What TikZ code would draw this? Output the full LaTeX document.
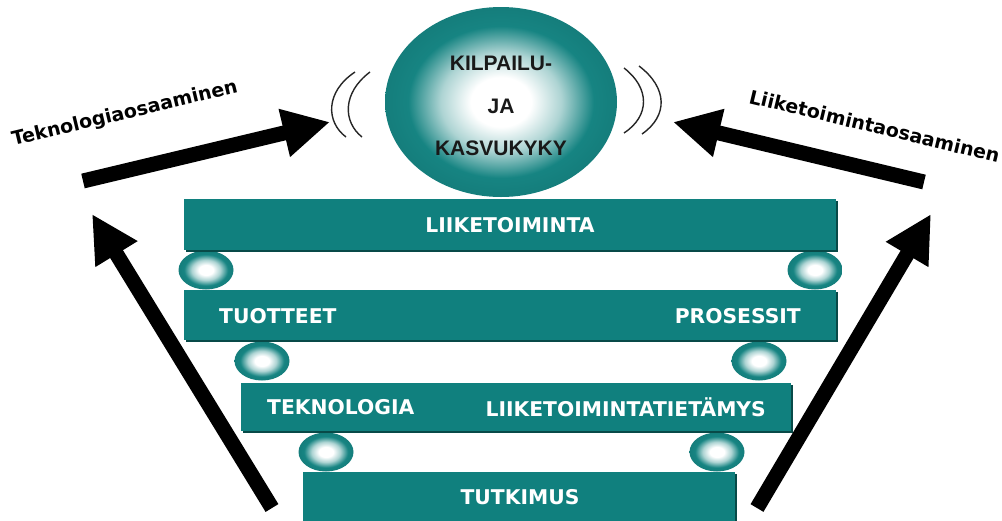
\documentclass[tikz,border=0pt]{standalone}
\usepackage{fontspec}
\setmainfont{DejaVu Sans}
\newfontfamily\ballfont{Liberation Sans}
\usetikzlibrary{arrows.meta,shapes.geometric,shadows}

\definecolor{barteal}{RGB}{16,128,126}
\definecolor{bardark}{RGB}{8,74,72}
\definecolor{balledge}{RGB}{22,132,130}
\colorlet{ballmid}{balledge!35!white}
\colorlet{ballrim}{balledge!95!black}

% white core fading into teal towards the rim
\pgfdeclareradialshading{pearlshade}{\pgfpoint{0bp}{0bp}}{%
  color(0bp)=(white); color(6.5bp)=(white); color(13bp)=(ballmid);
  color(20bp)=(balledge); color(25bp)=(ballrim); color(50bp)=(ballrim)}

\tikzset{
  bar/.style={rectangle, fill=barteal, inner sep=0pt, anchor=north west,
    general shadow={fill=bardark, shadow xshift=1.5pt, shadow yshift=-2pt}},
  bartext/.style={text=white, inner sep=0pt,
    font=\fontsize{20.3}{21}\selectfont\bfseries},
  pearlnode/.style={ellipse, inner sep=0pt, minimum width=55pt,
    minimum height=39pt, shade, shading=pearlshade},
  bigarrow/.style={line width=15pt, -{Triangle[length=47pt,width=46pt]}},
  sidelabel/.style={anchor=base, inner sep=0pt,
    font=\fontsize{19}{20}\selectfont\bfseries},
  wave/.style={line width=1.4pt, black!85},
}

\begin{document}
\begin{tikzpicture}[x=1pt,y=-1pt]
\useasboundingbox (0,0) rectangle (1002,520);

% connecting pearls between the layers
\node[pearlnode] (p1l) at (206,270) {};
\node[pearlnode] (p1r) at (815,270) {};
\node[pearlnode] (p2l) at (262,361) {};
\node[pearlnode] (p2r) at (759,361) {};
\node[pearlnode] (p3l) at (326,452) {};
\node[pearlnode] (p3r) at (717,452) {};

% the four layers
\node[bar, minimum width=652pt, minimum height=51pt] (b1) at (184,199) {};
\node[bar, minimum width=652pt, minimum height=50pt] (b2) at (184,290) {};
\node[bar, minimum width=550pt, minimum height=48pt] (b3) at (241,383) {};
\node[bar, minimum width=432pt, minimum height=60pt] (b4) at (303,472) {};

\node[bartext] (t1)  at (510,225) {LIIKETOIMINTA};
\node[bartext, anchor=west] (t2l) at (219,316) {TUOTTEET};
\node[bartext, anchor=east] (t2r) at (801,316) {PROSESSIT};
\node[bartext, anchor=west] (t3l) at (267,407) {TEKNOLOGIA};
\node[bartext, anchor=east] (t3r) at (766,407) {LIIKETOIMINTATIETÄMYS};
\node[bartext] (t4)  at (520,497) {TUTKIMUS};

% the goal on top
\node[ellipse, inner sep=0pt, minimum width=232pt, minimum height=190pt,
  shade, shading=pearlshade] (goal) at (501,102) {};
\node[align=center, inner sep=0pt, text=black!90,
  font=\ballfont\bfseries\fontsize{21}{42.5}\selectfont] (goaltext) at (501,106)
  {KILPAILU-\\JA\\KASVUKYKY};

% radiating waves
\draw[wave] (355,72) .. controls (325,92) and (326,122) .. (346,137);
\draw[wave] (370,72) .. controls (342,93) and (343,122) .. (362,137);
\draw[wave] (624,68) .. controls (650,88) and (650,116) .. (624,133);
\draw[wave] (639,66) .. controls (668,88) and (668,116) .. (642,134);

% arrows
\coordinate (aul) at (83,181);  \coordinate (hul) at (330,122);
\coordinate (aur) at (924,182); \coordinate (hur) at (673,122);
\coordinate (all) at (272,508); \coordinate (hll) at (92,214);
\coordinate (alr) at (757,508); \coordinate (hlr) at (931,214);
\draw[bigarrow] (aul) -- (hul);
\draw[bigarrow] (aur) -- (hur);
\draw[bigarrow] (all) -- (hll);
\draw[bigarrow] (alr) -- (hlr);

\node[sidelabel, rotate=13.5] (lt) at (126,119) {Teknologiaosaaminen};
\node[sidelabel, rotate=-13.5] (rt) at (873,133) {Liiketoimintaosaaminen};
\end{tikzpicture}
\end{document}
